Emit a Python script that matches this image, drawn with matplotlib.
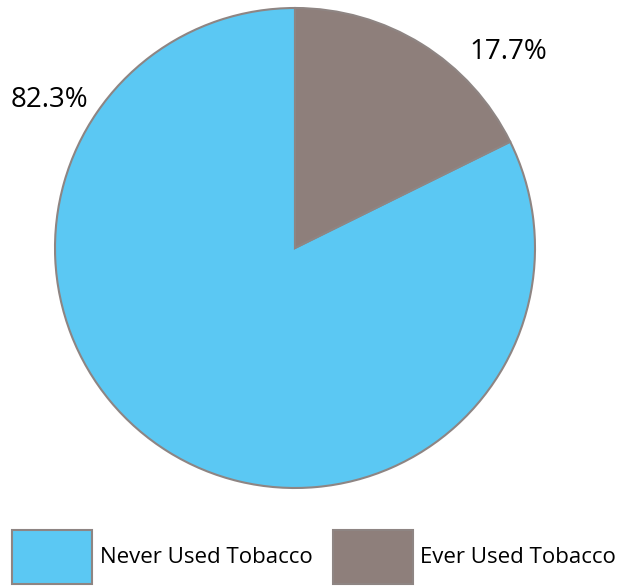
import matplotlib.pyplot as plt

labels = ["Never Used Tobacco", "Ever Used Tobacco"]
values = [82.3, 17.7]
pct_text = ["82.3%", "17.7%"]
colors = ["#5BC8F3", "#8E7F7B"]

plt.rcParams['font.family'] = ['Open Sans', 'DejaVu Sans']

fig = plt.figure(figsize=(6.25, 5.86), dpi=100)
ax = fig.add_axes([55 / 625, 98 / 586, 480 / 625, 480 / 586])

wedges, _ = ax.pie(values, colors=colors, startangle=90, counterclock=True,
                   wedgeprops=dict(edgecolor="#8E8583", linewidth=1.5))
ax.set_xlim(-1.0, 1.0)
ax.set_ylim(-1.0, 1.0)
ax.set_aspect('auto')

ax.text(-1.025, 0.617, pct_text[0], fontsize=20, ha='center', va='center')
ax.text(0.8875, 0.817, pct_text[1], fontsize=20, ha='center', va='center')

fig.legend(wedges, labels, loc='lower left', bbox_to_anchor=(12 / 625, 2 / 586),
           ncol=2, frameon=False, fontsize=16, handlelength=3.6, handleheight=3.35,
           handletextpad=0.35, columnspacing=0.9, borderpad=0, borderaxespad=0)

fig.savefig("out.png", dpi=100)
